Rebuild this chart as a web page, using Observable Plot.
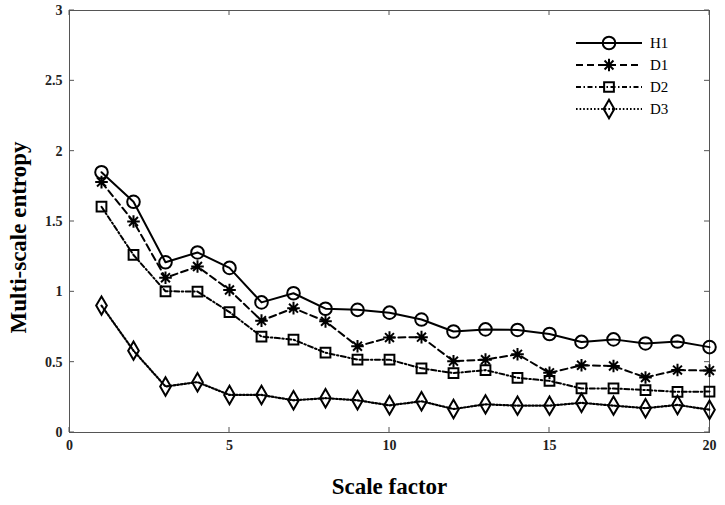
<!DOCTYPE html>
<html>
<head>
<meta charset="utf-8">
<script src="https://cdn.jsdelivr.net/npm/d3@7"></script>
<script src="https://cdn.jsdelivr.net/npm/@observablehq/plot@0.6"></script>
<style>
  html, body { margin: 0; padding: 0; background: #fff; }
  #chart { position: relative; width: 725px; height: 505px; }
</style>
</head>
<body>
<div id="chart"></div>
<script>
const scaleFactors = [1,2,3,4,5,6,7,8,9,10,11,12,13,14,15,16,17,18,19,20];
const H1 = [1.85,1.64,1.21,1.28,1.17,0.925,0.99,0.88,0.872,0.852,0.803,0.718,0.733,0.729,0.70,0.644,0.662,0.633,0.647,0.607];
const D1 = [1.78,1.50,1.10,1.18,1.013,0.795,0.884,0.79,0.613,0.675,0.678,0.507,0.518,0.556,0.424,0.478,0.473,0.391,0.444,0.44];
const D2 = [1.605,1.262,1.004,1.002,0.856,0.682,0.66,0.567,0.518,0.518,0.456,0.422,0.444,0.389,0.367,0.313,0.313,0.302,0.289,0.291];
const D3 = [0.902,0.582,0.327,0.358,0.267,0.267,0.229,0.244,0.229,0.193,0.222,0.167,0.2,0.191,0.191,0.211,0.191,0.173,0.196,0.162];
const seriesNames = ["H1","D1","D2","D3"];
const xTicks = [0,5,10,15,20];
const yTicks = [0,0.5,1,1.5,2,2.5,3];
const xLabel = "Scale factor";
const yLabel = "Multi-scale entropy";

// 8-armed asterisk like MATLAB's '*' marker
const asterisk8 = {
  draw(context, size) {
    const r = Math.sqrt(size / Math.PI);
    for (let k = 0; k < 4; k++) {
      const a = k * Math.PI / 4;
      const dx = r * Math.cos(a), dy = r * Math.sin(a);
      context.moveTo(-dx, -dy);
      context.lineTo(dx, dy);
    }
  }
};

const styles = {
  H1: {symbol: "circle", d3sym: d3.symbolCircle, dash: null, r: 6.3, sw: 2},
  D1: {symbol: asterisk8, d3sym: asterisk8, dash: "7,4", r: 6.3, sw: 2},
  D2: {symbol: "square", d3sym: d3.symbolSquare, dash: "5,2.5,1.5,2.5", r: 5.5, sw: 2},
  D3: {symbol: "diamond", d3sym: d3.symbolDiamond, dash: "1.6,2", r: 5.6, sw: 2.2}
};
const valuesByName = {H1, D1, D2, D3};
const rows = seriesNames.flatMap(name =>
  scaleFactors.map((s, i) => ({series: name, x: s, y: valuesByName[name][i]}))
);

const font = "'Liberation Serif', serif";
const axisColor = "#555";
const marks = [
  Plot.frame({stroke: axisColor, strokeWidth: 1}),
  Plot.axisX({ticks: xTicks, tickSize: 0, tickPadding: 8, tickFormat: d => String(d), label: null,
    fontSize: 14, fontWeight: "bold", fontFamily: font, color: "#222"}),
  Plot.axisY({ticks: yTicks, tickSize: 0, tickPadding: 7, tickFormat: d => String(d), label: null,
    fontSize: 14, fontWeight: "bold", fontFamily: font, color: "#222"})
];
for (const name of seriesNames) {
  const st = styles[name];
  const d = rows.filter(r => r.series === name);
  marks.push(Plot.line(d, {x: "x", y: "y", stroke: "#000", strokeWidth: st.sw, strokeDasharray: st.dash}));
  marks.push(Plot.dot(d, {x: "x", y: "y", symbol: st.symbol, r: st.r, stroke: "#000", strokeWidth: 2, fill: "none"}));
}
marks.push(Plot.text([xLabel], {frameAnchor: "bottom", dy: 61, textAnchor: "middle", text: d => d, fontSize: 23, fontWeight: "bold", fontFamily: font, fill: "#000"}));
marks.push(Plot.text([yLabel], {frameAnchor: "left", dx: -51, dy: 16, textAnchor: "middle", rotate: -90, text: d => d, fontSize: 23, fontWeight: "bold", fontFamily: font, fill: "#000"}));

const chart = Plot.plot({
  width: 725,
  height: 505,
  marginLeft: 69,
  marginRight: 16,
  marginTop: 10,
  marginBottom: 73,
  x: {domain: [0, 20]},
  y: {domain: [0, 3]},
  style: {background: "#fff", fontFamily: font, overflow: "visible"},
  marks
});
document.getElementById("chart").appendChild(chart);

const svg = d3.select(chart);
const xs = chart.scale("x"), ys = chart.scale("y");
const [xLeft, xRight] = xs.range;
const [yBottom, yTop] = ys.range;
const tickLen = 5;

// inward tick marks on all four sides, placed with Plot's scales
const tg = svg.append("g").attr("stroke", axisColor).attr("stroke-width", 1);
for (const t of xTicks) {
  const px = xs.apply(t);
  tg.append("line").attr("x1", px).attr("x2", px).attr("y1", yBottom).attr("y2", yBottom - tickLen);
  tg.append("line").attr("x1", px).attr("x2", px).attr("y1", yTop).attr("y2", yTop + tickLen);
}
for (const t of yTicks) {
  const py = ys.apply(t);
  tg.append("line").attr("y1", py).attr("y2", py).attr("x1", xLeft).attr("x2", xLeft + tickLen);
  tg.append("line").attr("y1", py).attr("y2", py).attr("x1", xRight).attr("x2", xRight - tickLen);
}

// Legend inside the plot (top-right)
const lg = svg.append("g").attr("class", "legend");
const legendX0 = 576, legendX1 = 642, legendMid = 609, legendTextX = 650, legendY0 = 43, legendDy = 22;
seriesNames.forEach((name, i) => {
  const st = styles[name];
  const y = legendY0 + i * legendDy;
  lg.append("line").attr("x1", legendX0).attr("x2", legendX1).attr("y1", y).attr("y2", y)
    .attr("stroke", "#000").attr("stroke-width", st.sw).attr("stroke-dasharray", st.dash);
  lg.append("path").attr("transform", `translate(${legendMid},${y})`)
    .attr("d", d3.symbol(st.d3sym, Math.PI * st.r * st.r)())
    .attr("fill", "none").attr("stroke", "#000").attr("stroke-width", 2);
  lg.append("text").attr("x", legendTextX).attr("y", y).attr("dy", "0.35em")
    .attr("text-anchor", "start")
    .attr("font-family", "'Liberation Serif', serif").attr("font-size", 15).attr("fill", "#000")
    .text(name);
});
</script>
</body>
</html>
